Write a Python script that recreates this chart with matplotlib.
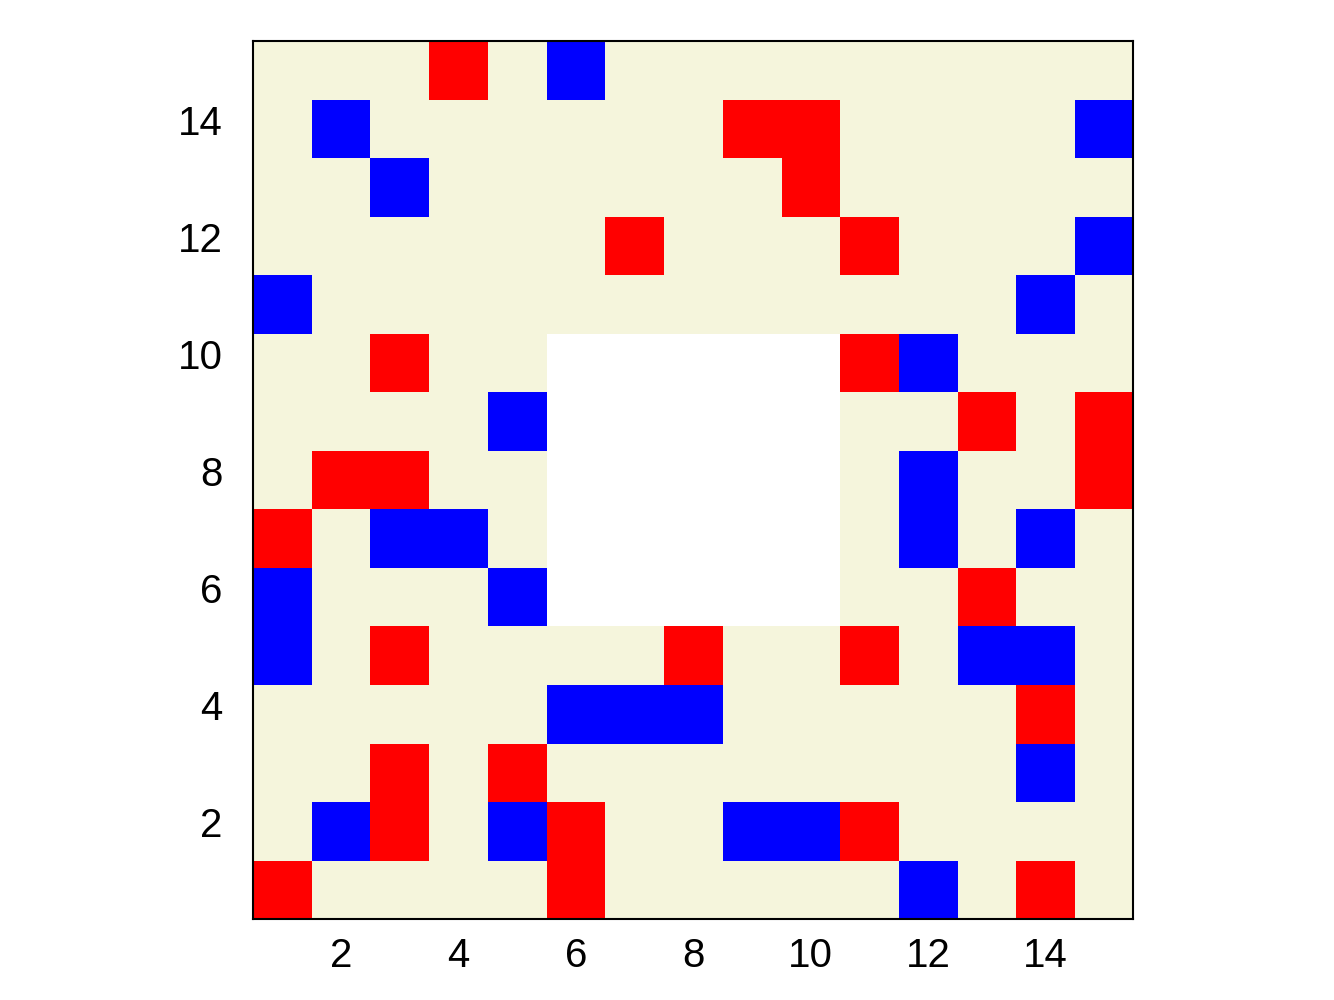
import numpy as np
import matplotlib.pyplot as plt
from matplotlib.colors import ListedColormap
from matplotlib.transforms import ScaledTranslation

GRID_SIZE = 15

# agent positions as (column, row), row 1 at the bottom
RED_CELLS = [
    (4, 15),
    (9, 14), (10, 14),
    (10, 13),
    (7, 12), (11, 12),
    (3, 10), (11, 10),
    (13, 9), (15, 9),
    (2, 8), (3, 8), (15, 8),
    (1, 7),
    (13, 6),
    (3, 5), (8, 5), (11, 5),
    (14, 4),
    (3, 3), (5, 3),
    (3, 2), (6, 2), (11, 2),
    (1, 1), (6, 1), (14, 1),
]
BLUE_CELLS = [
    (6, 15),
    (2, 14), (15, 14),
    (3, 13),
    (15, 12),
    (1, 11), (14, 11),
    (12, 10),
    (5, 9),
    (12, 8),
    (3, 7), (4, 7), (12, 7), (14, 7),
    (1, 6), (5, 6),
    (1, 5), (13, 5), (14, 5),
    (6, 4), (7, 4), (8, 4),
    (14, 3),
    (2, 2), (5, 2), (9, 2), (10, 2),
    (12, 1),
]
# blocked region with no cells (columns 6-10, rows 6-10)
HOLE_COLS = range(6, 11)
HOLE_ROWS = range(6, 11)

TICKS = [2, 4, 6, 8, 10, 12, 14]

grid = np.zeros((GRID_SIZE, GRID_SIZE))
for c in HOLE_COLS:
    for r in HOLE_ROWS:
        grid[r - 1, c - 1] = 3
for c, r in RED_CELLS:
    grid[r - 1, c - 1] = 1
for c, r in BLUE_CELLS:
    grid[r - 1, c - 1] = 2

cmap = ListedColormap(["#F5F5DC", "#FF0000", "#0000FF", "#FFFFFF"])

plt.rcParams["font.family"] = ["Liberation Sans", "DejaVu Sans"]

fig = plt.figure(figsize=(13.34, 10), dpi=100)
ax = fig.add_axes([0.1897, 0.081, 0.66, 0.878])
ax.imshow(grid, cmap=cmap, vmin=-0.5, vmax=3.5, origin="lower",
          extent=(0.5, GRID_SIZE + 0.5, 0.5, GRID_SIZE + 0.5),
          interpolation="nearest", aspect="auto")

ax.set_xticks(TICKS)
ax.set_yticks(TICKS)
ax.tick_params(axis="both", length=0, labelsize=29)
ax.tick_params(axis="x", pad=13)
ax.tick_params(axis="y", pad=22)

# y labels sit a little above the row centres in the original
shift = ScaledTranslation(0, 6.5 / 72, fig.dpi_scale_trans)
for label in ax.get_yticklabels():
    label.set_transform(label.get_transform() + shift)

for spine in ax.spines.values():
    spine.set_linewidth(1.5)

fig.savefig("out.png", dpi=100)
